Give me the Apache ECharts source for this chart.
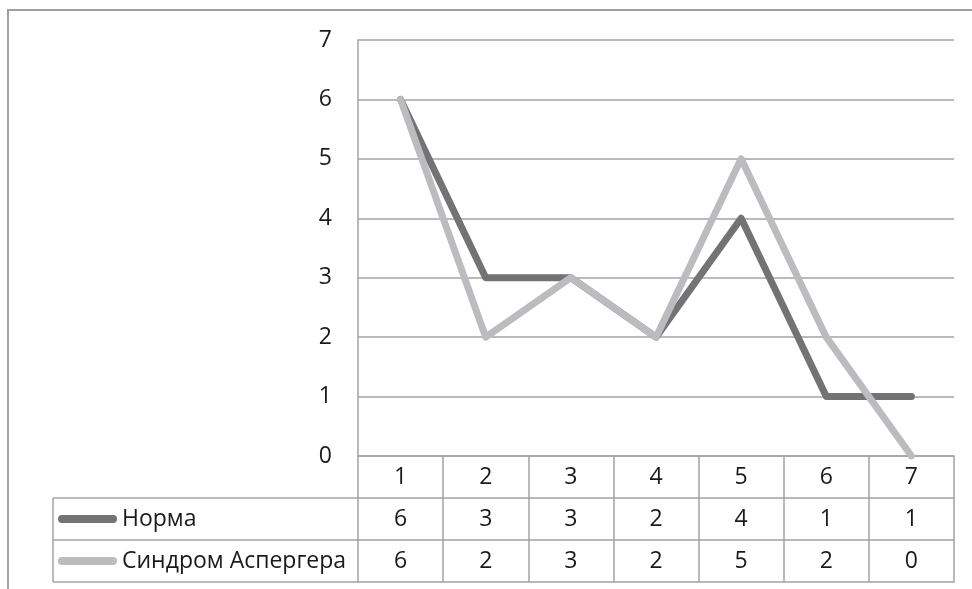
<!DOCTYPE html>
<html>
<head>
<meta charset="utf-8">
<script src="https://cdn.jsdelivr.net/npm/echarts@6/dist/echarts.min.js"></script>
<style>html,body{margin:0;padding:0;background:#fff}#c{width:972px;height:589px}</style>
</head>
<body>
<div id="c"></div>
<script>
const categories = ['1', '2', '3', '4', '5', '6', '7'];
const seriesNames = ['Норма', 'Синдром Аспергера'];
const norma = [6, 3, 3, 2, 4, 1, 1];
const asperger = [6, 2, 3, 2, 5, 2, 0];
const yTicks = [0, 1, 2, 3, 4, 5, 6, 7];

const FONT = 'Open Sans';
const FS = 23;
const GRID = '#a3a3a3';
const TXT = '#1a1a1a';
const DARK = '#737376';
const LIGHT = '#bbbcbf';

const chart = echarts.init(document.getElementById('c'), null, {renderer: 'canvas'});

function tableAxis(offset, labels, showLabels, showTicks) {
  return {
    type: 'category',
    data: categories,
    position: 'bottom',
    offset: offset,
    boundaryGap: true,
    axisLine: {show: true, lineStyle: {color: GRID, width: 1.5}},
    axisTick: {show: showTicks, interval: 0, alignWithLabel: false, length: 42, lineStyle: {color: GRID, width: 1.5}},
    axisLabel: {
      show: showLabels,
      interval: 0,
      margin: 21,
      verticalAlign: 'middle',
      fontFamily: FONT,
      fontSize: FS,
      color: TXT,
      formatter: function (v, i) { return String(labels[i]); }
    },
    splitLine: {show: false}
  };
}

const option = {
  animation: false,
  grid: {left: 358, right: 18, top: 40, bottom: 133, containLabel: false},
  legend: {
    orient: 'vertical',
    left: 53,
    top: 501,
    itemGap: 16,
    itemWidth: 59,
    itemHeight: 8,
    icon: 'path://M4,0 L55,0 A4,4 0 0 1 55,8 L4,8 A4,4 0 0 1 4,0 Z',
    textStyle: {fontFamily: FONT, fontSize: FS, color: TXT, lineHeight: 26},
    data: seriesNames
  },
  xAxis: [
    tableAxis(0, categories, true, true),
    tableAxis(42, norma, true, true),
    tableAxis(84, asperger, true, true),
    tableAxis(126, categories, false, false)
  ],
  yAxis: {
    type: 'value',
    min: yTicks[0],
    max: yTicks[yTicks.length - 1],
    interval: 1,
    axisLine: {show: true, lineStyle: {color: GRID, width: 1.5}},
    axisTick: {show: false},
    axisLabel: {margin: 26, fontFamily: FONT, fontSize: FS, color: TXT},
    splitLine: {show: true, lineStyle: {color: GRID, width: 1.5}}
  },
  series: [
    {
      name: seriesNames[0], type: 'line', xAxisIndex: 0, data: norma,
      symbol: 'none', color: DARK,
      lineStyle: {width: 7, color: DARK, cap: 'round', join: 'round'}
    },
    {
      name: seriesNames[1], type: 'line', xAxisIndex: 0, data: asperger,
      symbol: 'none', color: LIGHT,
      lineStyle: {width: 7, color: LIGHT, cap: 'round', join: 'round'}
    }
  ],
  graphic: [
    {type: 'rect', silent: true, shape: {x: 8, y: 10, width: 1200, height: 1200}, style: {fill: 'none', stroke: '#a0a0a0', lineWidth: 2}},
    {type: 'line', silent: true, shape: {x1: 53, y1: 498, x2: 358, y2: 498}, style: {stroke: GRID, lineWidth: 1.5}},
    {type: 'line', silent: true, shape: {x1: 53, y1: 540, x2: 358, y2: 540}, style: {stroke: GRID, lineWidth: 1.5}},
    {type: 'line', silent: true, shape: {x1: 53, y1: 582, x2: 358, y2: 582}, style: {stroke: GRID, lineWidth: 1.5}},
    {type: 'line', silent: true, shape: {x1: 53, y1: 498, x2: 53, y2: 582}, style: {stroke: GRID, lineWidth: 1.5}}
  ]
};
chart.setOption(option);
</script>
</body>
</html>
